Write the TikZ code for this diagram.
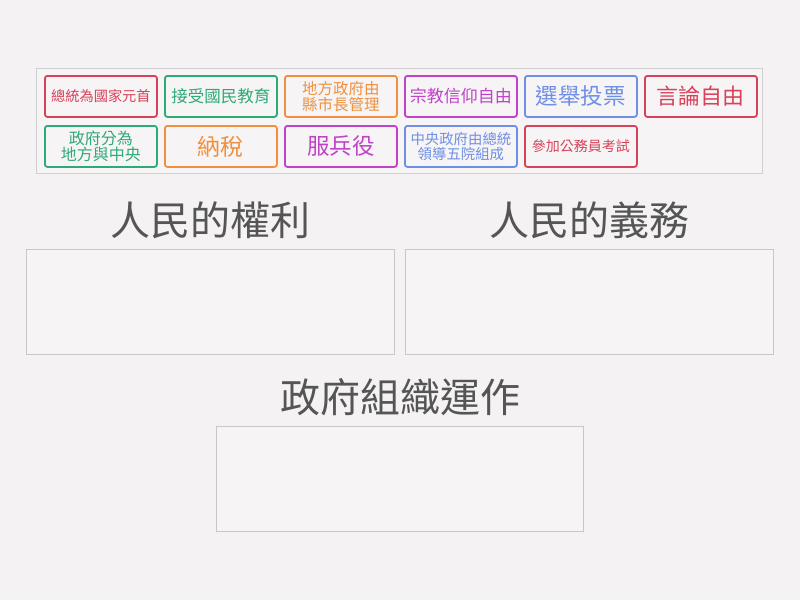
\documentclass[tikz,border=0pt]{standalone}
\usepackage{fontspec}
\setmainfont{Noto Sans CJK TC}
\newfontfamily\cjk{Noto Sans CJK TC}
\definecolor{bg}{HTML}{F4F2F3}
\definecolor{panelfill}{HTML}{F6F4F5}
\definecolor{panelline}{HTML}{D0CED0}
\definecolor{boxline}{HTML}{C8C6C8}
\definecolor{headc}{HTML}{555555}
\definecolor{cred}{HTML}{D9415A}
\definecolor{cgreen}{HTML}{2EAA78}
\definecolor{corange}{HTML}{F0903E}
\definecolor{cpurple}{HTML}{BF42C8}
\definecolor{cblue}{HTML}{6F8FE6}
\tikzset{
  tile/.style={draw=#1, text=#1, line width=1.8pt, rounded corners=2.5pt, fill=panelfill,
    minimum width=112pt, minimum height=41pt, inner sep=0pt, align=center, anchor=north west},
  heading/.style={text=headc, font=\cjk\fontsize{40}{42}\selectfont, inner sep=0pt},
  dropbox/.style={draw=boxline, line width=0.8pt, fill=panelfill}
}
\newcommand{\fs}[1]{\cjk\fontsize{#1}{#1}\selectfont}
\newcommand{\fst}[2]{\cjk\fontsize{#1}{#2}\selectfont}
\begin{document}
\begin{tikzpicture}[x=1pt,y=-1pt]
\fill[bg] (0,0) rectangle (800,600);
\useasboundingbox (0,0) rectangle (800,600);
% panel
\draw[draw=panelline, fill=panelfill, line width=0.8pt] (36,68) rectangle (762,173);
% row 1
\node[tile=cred, font=\fs{14.2}] (t1) at (44,75) {總統為國家元首};
\node[tile=cgreen, font=\fs{16.5}] (t2) at (164,75) {接受國民教育};
\node[tile=corange, font=\fst{15.5}{16}] (t3) at (284,75) {地方政府由\\縣市長管理};
\node[tile=cpurple, font=\fs{17}] (t4) at (404,75) {宗教信仰自由};
\node[tile=cblue, font=\fs{22.5}] (t5) at (524,75) {選舉投票};
\node[tile=cred, font=\fs{22}] (t6) at (644,75) {言論自由};
% row 2
\node[tile=cgreen, font=\fst{16}{16.5}] (u1) at (44,125) {政府分為\\地方與中央};
\node[tile=corange, font=\fs{23}] (u2) at (164,125) {納稅};
\node[tile=cpurple, font=\fs{22.5}] (u3) at (284,125) {服兵役};
\node[tile=cblue, font=\fst{14.4}{15}] (u4) at (404,125) {中央政府由總統\\領導五院組成};
\node[tile=cred, font=\fs{14}] (u5) at (524,125) {參加公務員考試};
% headings
\node[heading] (h1) at (210,220) {人民的權利};
\node[heading] (h2) at (589,220) {人民的義務};
\node[heading] (h3) at (400,397) {政府組織運作};
% drop boxes
\draw[dropbox] (26,249) rectangle (394,354);
\draw[dropbox] (405,249) rectangle (773,354);
\draw[dropbox] (216,426) rectangle (583,531);
\end{tikzpicture}
\end{document}
